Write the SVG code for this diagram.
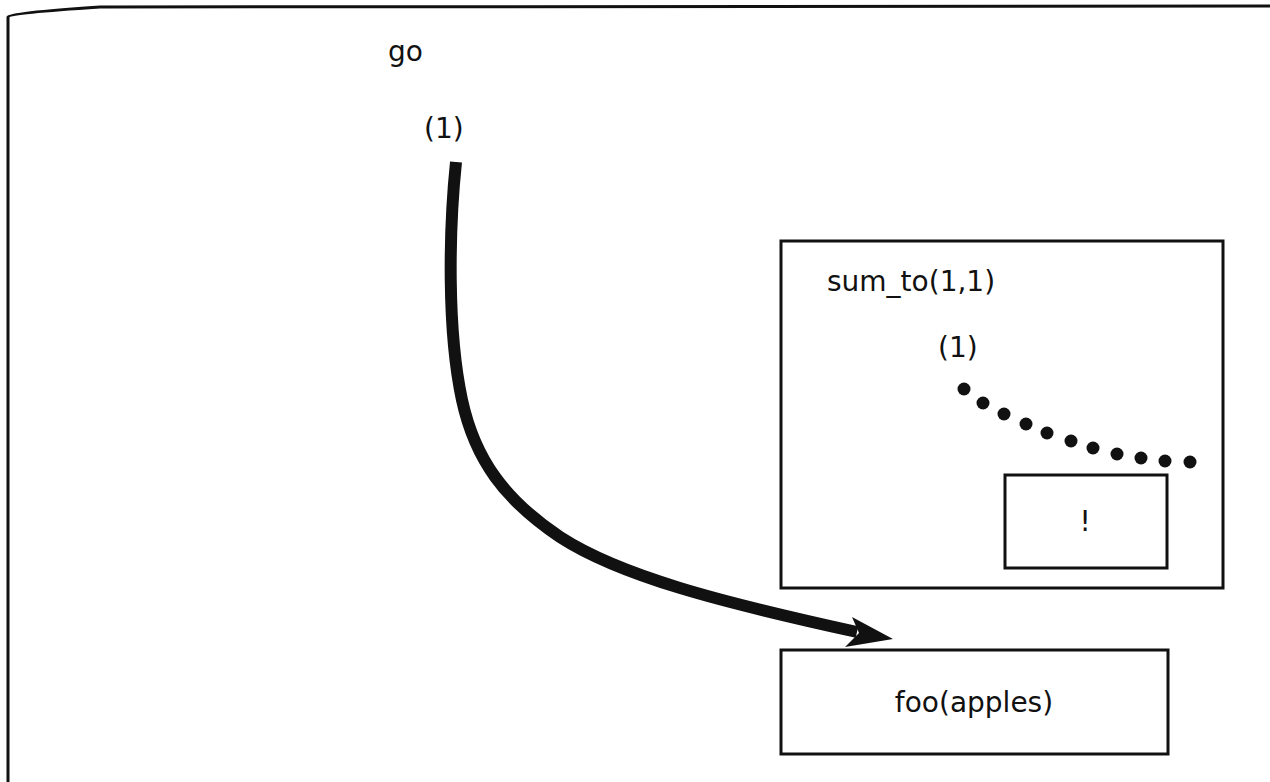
<svg xmlns="http://www.w3.org/2000/svg" width="1270" height="782" viewBox="0 0 1270 782">
<style>
text{font-family:"DejaVu Sans","Liberation Sans",sans-serif;font-size:28px;fill:#111;}
.box{fill:none;stroke:#111;stroke-width:3;}
.frame{fill:none;stroke:#111;stroke-width:3;}
.dot{fill:#111;}
</style>
<rect width="1270" height="782" fill="#fff"/>
<path class="frame" d="M8,782 V17 Q9,13 100,7 L1270,6"/>
<g id="go">
<text x="388" y="61">go</text>
<text x="424" y="138">(1)</text>
</g>
<g id="sum_to">
<rect class="box" x="781" y="241" width="442" height="347"/>
<text x="827" y="291">sum_to(1,1)</text>
<text x="938" y="357">(1)</text>
</g>
<g id="bang">
<rect class="box" x="1005" y="475" width="162" height="93"/>
<text x="1085" y="531" text-anchor="middle">!</text>
</g>
<g id="foo">
<rect class="box" x="781" y="650" width="387" height="104"/>
<text x="974" y="712" text-anchor="middle">foo(apples)</text>
</g>
<g id="connectors">
<path d="M456,162 C449,230 447,330 462,400 C475,460 505,500 560,537 C620,576 720,602 857,632" fill="none" stroke="#111" stroke-width="12"/>
<polygon points="893,639 852,617 859,633 845,647" fill="#111"/>
<g class="dot">
<circle cx="964" cy="389" r="6.5"/>
<circle cx="983" cy="403" r="6.5"/>
<circle cx="1004" cy="414" r="6.5"/>
<circle cx="1026" cy="424" r="6.5"/>
<circle cx="1047" cy="433" r="6.5"/>
<circle cx="1071" cy="441" r="6.5"/>
<circle cx="1093" cy="448" r="6.5"/>
<circle cx="1117" cy="454" r="6.5"/>
<circle cx="1141" cy="458" r="6.5"/>
<circle cx="1165" cy="461" r="6.5"/>
<circle cx="1190" cy="462" r="6.5"/>
</g>
</g>
</svg>
